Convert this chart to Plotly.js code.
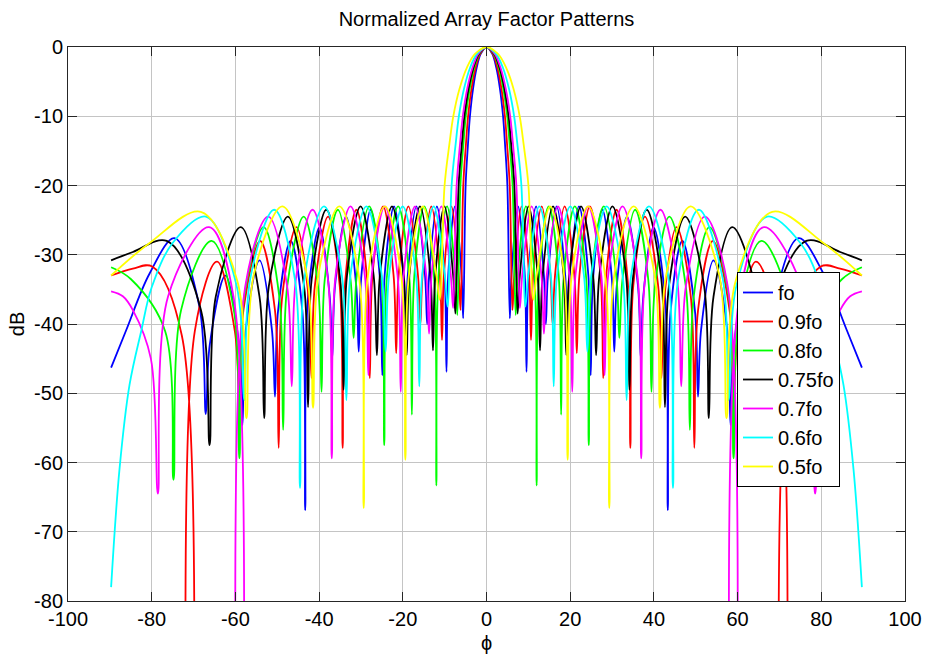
<!DOCTYPE html>
<html>
<head>
<meta charset="utf-8">
<script src="https://cdn.plot.ly/plotly-3.0.1.min.js"></script>
<style>
  html, body { margin: 0; padding: 0; background: #ffffff; }
  #chart { width: 925px; height: 657px; }
</style>
</head>
<body>
<div id="chart"></div>
<script>
// ---- data (phi in degrees, level in dB) ----
const seriesNames = ["fo", "0.9fo", "0.8fo", "0.75fo", "0.7fo", "0.6fo", "0.5fo"];
const seriesColors = ["#0000ff", "#ff0000", "#00ff00", "#000000", "#ff00ff", "#00ffff", "#ffff00"];

// fo
const phiL_fo = [-89.7,-86.1,-80.5,-74.58,-68.57,-67.07,-66.13,-62.38,-59.13,-58.32,-57.51,-54.25,-51.28,-50.54,-49.79,-46.81,-44.02,-43.32,-42.63,-39.87,-37.47,-36.87,-36.2,-33.54,-31.13,-30.53,-29.96,-27.68,-25.46,-24.9,-24.34,-22.09,-19.88,-19.33,-18.81,-16.74,-14.69,-14.18,-13.72,-11.86,-10.02,-9.56,-9.15,-7.53,-5.96,-5.57,-4.99,-4.42,-3.96,-3.21,-2.35,-1.38];
const dbL_fo = [-46.3,-40.9,-32.7,-27.6,-37.6,-53,-43,-33,-43,-54.6,-40.8,-30.8,-40.8,-50.5,-38,-28,-38,-66.9,-36,-26,-36,-45,-34.5,-24.5,-34.5,-44,-33.5,-23.5,-33.5,-47.4,-33,-23,-33,-42,-33,-23,-33,-40,-33,-23,-33,-46.9,-33,-23,-33,-39.2,-20,-14,-10,-6,-3,-1];
const phiR_fo = [0,1.38,2.35,3.21,3.96,4.42,4.99,5.57,5.96,7.53,9.15,9.56,10.02,11.86,13.72,14.18,14.69,16.74,18.81,19.33,19.88,22.09,24.34,24.9,25.46,27.68,29.96,30.53,31.13,33.54,36.2,36.87,37.47,39.87,42.63,43.32,44.02,46.81,49.79,50.54,51.28,54.25,57.51,58.32,59.13,62.38,66.13,67.07,68.57,74.58,80.5,86.1,89.7];
const dbR_fo = [0,-1,-3,-6,-10,-14,-20,-39.2,-33,-23,-33,-46.9,-33,-23,-33,-40,-33,-23,-33,-42,-33,-23,-33,-47.4,-33.5,-23.5,-33.5,-44,-34.5,-24.5,-34.5,-45,-36,-26,-36,-66.9,-38,-28,-38,-50.5,-40.8,-30.8,-40.8,-54.6,-43,-33,-43,-53,-37.6,-27.6,-32.7,-40.9,-46.3];

// 0.9fo
const phiL_09 = [-89.7,-84.5,-79.88,-72.79,-71.02,-69.69,-64.37,-60.14,-59.08,-58.08,-54.1,-50.55,-49.66,-48.81,-45.41,-42.53,-41.81,-41.02,-37.87,-35.07,-34.37,-33.71,-31.07,-28.53,-27.89,-27.25,-24.7,-22.2,-21.58,-21.0,-18.66,-16.37,-15.8,-15.28,-13.2,-11.14,-10.63,-10.18,-8.37,-6.63,-6.19,-5.55,-4.91,-4.4,-3.57,-2.61,-1.53];
const dbL_09 = [-33,-32,-31.7,-41.7,-150,-41,-31,-41,-50,-38,-28,-38,-57.9,-36,-26,-36,-47.8,-34.5,-24.5,-34.5,-57.9,-33.5,-23.5,-33.5,-47.8,-33,-23,-33,-44.2,-33,-23,-33,-40,-33,-23,-33,-42.3,-33,-23,-33,-38,-20,-14,-10,-6,-3,-1];
const phiR_09 = [0,1.53,2.61,3.57,4.4,4.91,5.55,6.19,6.63,8.37,10.18,10.63,11.14,13.2,15.28,15.8,16.37,18.66,21.0,21.58,22.2,24.7,27.25,27.89,28.53,31.07,33.71,34.37,35.07,37.87,41.02,41.81,42.53,45.41,48.81,49.66,50.55,54.1,58.08,59.08,60.14,64.37,69.69,71.02,72.79,79.88,84.5,89.7];
const dbR_09 = [0,-1,-3,-6,-10,-14,-20,-38,-33,-23,-33,-42.3,-33,-23,-33,-40,-33,-23,-33,-44.2,-33,-23,-33,-47.8,-33.5,-23.5,-33.5,-57.9,-34.5,-24.5,-34.5,-47.8,-36,-26,-36,-57.9,-38,-28,-38,-50,-41,-31,-41,-150,-41.7,-31.7,-32,-33];

// 0.8fo
const phiL_08 = [-89.7,-85,-76.8,-74.8,-72.98,-65.69,-60.37,-59.04,-57.88,-53.25,-49.52,-48.59,-47.61,-43.68,-40.27,-39.42,-38.64,-35.5,-32.5,-31.75,-31.01,-28.04,-25.16,-24.44,-23.77,-21.1,-18.48,-17.83,-17.24,-14.88,-12.56,-11.98,-11.47,-9.42,-7.45,-6.96,-6.24,-5.52,-4.95,-4.01,-2.94,-1.72];
const dbL_08 = [-31.8,-33.5,-41,-62.5,-38,-28,-38,-59.4,-36,-26,-36,-55.3,-34.5,-24.5,-34.5,-49.8,-33.5,-23.5,-33.5,-42,-33,-23,-33,-57.5,-33,-23,-33,-53.1,-33,-23,-33,-63.3,-33,-23,-33,-38.7,-20,-14,-10,-6,-3,-1];
const phiR_08 = [0,1.72,2.94,4.01,4.95,5.52,6.24,6.96,7.45,9.42,11.47,11.98,12.56,14.88,17.24,17.83,18.48,21.1,23.77,24.44,25.16,28.04,31.01,31.75,32.5,35.5,38.64,39.42,40.27,43.68,47.61,48.59,49.52,53.25,57.88,59.04,60.37,65.69,72.98,74.8,76.8,85,89.7];
const dbR_08 = [0,-1,-3,-6,-10,-14,-20,-38.7,-33,-23,-33,-63.3,-33,-23,-33,-53.1,-33,-23,-33,-57.5,-33,-23,-33,-42,-33.5,-23.5,-33.5,-49.8,-34.5,-24.5,-34.5,-55.3,-36,-26,-36,-59.4,-38,-28,-38,-62.5,-41,-33.5,-31.8];

// 0.75fo
const phiL_075 = [-89.7,-84.5,-76.41,-68.22,-66.17,-64.68,-58.72,-54.25,-53.13,-52.0,-47.46,-43.6,-42.64,-41.77,-38.27,-34.97,-34.15,-33.34,-30.09,-26.97,-26.19,-25.47,-22.58,-19.77,-19.07,-18.44,-15.9,-13.41,-12.79,-12.24,-10.06,-7.96,-7.43,-6.66,-5.89,-5.28,-4.28,-3.13,-1.83];
const dbL_075 = [-30.8,-29.6,-28,-38,-57.5,-36,-26,-36,-53.6,-34.5,-24.5,-34.5,-52,-33.5,-23.5,-33.5,-49.5,-33,-23,-33,-44.5,-33,-23,-33,-44.5,-33,-23,-33,-43.8,-33,-23,-33,-38.5,-20,-14,-10,-6,-3,-1];
const phiR_075 = [0,1.83,3.13,4.28,5.28,5.89,6.66,7.43,7.96,10.06,12.24,12.79,13.41,15.9,18.44,19.07,19.77,22.58,25.47,26.19,26.97,30.09,33.34,34.15,34.97,38.27,41.77,42.64,43.6,47.46,52.0,53.13,54.25,58.72,64.68,66.17,68.22,76.41,84.5,89.7];
const dbR_075 = [0,-1,-3,-6,-10,-14,-20,-38.5,-33,-23,-33,-43.8,-33,-23,-33,-44.5,-33,-23,-33,-44.5,-33,-23,-33,-49.5,-33.5,-23.5,-33.5,-52,-34.5,-24.5,-34.5,-53.6,-36,-26,-36,-57.5,-38,-28,-29.6,-30.8];

// 0.7fo
const phiL_07 = [-89.7,-86.9,-84.5,-80.2,-78.52,-76.08,-66.31,-60.46,-59,-57.62,-52.12,-47.65,-46.53,-45.54,-41.57,-37.89,-36.97,-36.07,-32.49,-29.07,-28.22,-27.43,-24.29,-21.25,-20.49,-19.81,-17.07,-14.39,-13.72,-13.13,-10.79,-8.53,-7.97,-7.14,-6.32,-5.66,-4.59,-3.36,-1.97];
const dbL_07 = [-35.3,-36,-38,-45,-64.5,-36,-26,-36,-150,-34.5,-24.5,-34.5,-49,-33.5,-23.5,-33.5,-59.4,-33,-23,-33,-47.4,-33,-23,-33,-49.8,-33,-23,-33,-41.4,-33,-23,-33,-37.7,-20,-14,-10,-6,-3,-1];
const phiR_07 = [0,1.97,3.36,4.59,5.66,6.32,7.14,7.97,8.53,10.79,13.13,13.72,14.39,17.07,19.81,20.49,21.25,24.29,27.43,28.22,29.07,32.49,36.07,36.97,37.89,41.57,45.54,46.53,47.65,52.12,57.62,59,60.46,66.31,76.08,78.52,80.2,84.5,86.9,89.7];
const dbR_07 = [0,-1,-3,-6,-10,-14,-20,-37.7,-33,-23,-33,-41.4,-33,-23,-33,-49.8,-33,-23,-33,-47.4,-33,-23,-33,-59.4,-33.5,-23.5,-33.5,-49,-34.5,-24.5,-34.5,-150,-36,-26,-36,-64.5,-45,-38,-36,-35.3];

// 0.6fo
const phiL_06 = [-89.7,-87.7,-85.3,-82.5,-80,-75,-67.04,-59.69,-57.85,-56.47,-50.73,-45.79,-44.56,-43.41,-38.81,-34.55,-33.48,-32.52,-28.69,-25.02,-24.1,-23.29,-20.03,-16.85,-16.06,-15.37,-12.61,-9.96,-9.3,-8.34,-7.37,-6.6,-5.36,-3.92,-2.29];
const dbL_06 = [-78,-61,-48.8,-41,-34.7,-28.3,-24.5,-34.5,-51,-33.5,-23.5,-33.5,-63.7,-33,-23,-33,-51,-33,-23,-33,-44,-33,-23,-33,-49,-33,-23,-33,-37.5,-20,-14,-10,-6,-3,-1];
const phiR_06 = [0,2.29,3.92,5.36,6.6,7.37,8.34,9.3,9.96,12.61,15.37,16.06,16.85,20.03,23.29,24.1,25.02,28.69,32.52,33.48,34.55,38.81,43.41,44.56,45.79,50.73,56.47,57.85,59.69,67.04,75,80,82.5,85.3,87.7,89.7];
const dbR_06 = [0,-1,-3,-6,-10,-14,-20,-37.5,-33,-23,-33,-49,-33,-23,-33,-44,-33,-23,-33,-51,-33,-23,-33,-63.7,-33.5,-23.5,-33.5,-51,-34.5,-24.5,-28.3,-34.7,-41,-48.8,-61,-78];

// 0.5fo
const phiL_05 = [-89.7,-80.5,-68.27,-59.54,-57.36,-55.64,-48.76,-42.91,-41.45,-40.19,-35.17,-30.51,-29.34,-28.33,-24.27,-20.37,-19.39,-18.55,-15.19,-11.99,-11.19,-10.02,-8.86,-7.93,-6.43,-4.71,-2.75];
const dbL_05 = [-33,-28.3,-23.8,-33.8,-53.6,-33,-23,-33,-52.1,-33,-23,-33,-66.6,-33,-23,-33,-59.6,-33,-23,-33,-36.5,-20,-14,-10,-6,-3,-1];
const phiR_05 = [0,2.75,4.71,6.43,7.93,8.86,10.02,11.19,11.99,15.19,18.55,19.39,20.37,24.27,28.33,29.34,30.51,35.17,40.19,41.45,42.91,48.76,55.64,57.36,59.54,68.27,80.5,89.7];
const dbR_05 = [0,-1,-3,-6,-10,-14,-20,-36.5,-33,-23,-33,-59.6,-33,-23,-33,-66.6,-33,-23,-33,-52.1,-33,-23,-33,-53.6,-33.8,-23.8,-28.3,-33];

const xTickVals = [-100, -80, -60, -40, -20, 0, 20, 40, 60, 80, 100];
const xTickText = ["-100", "-80", "-60", "-40", "-20", "0", "20", "40", "60", "80", "100"];
const yTickVals = [-80, -70, -60, -50, -40, -30, -20, -10, 0];
const yTickText = ["-80", "-70", "-60", "-50", "-40", "-30", "-20", "-10", "0"];

// ---- build traces ----
const xs = [phiL_fo.concat(phiR_fo), phiL_09.concat(phiR_09), phiL_08.concat(phiR_08),
            phiL_075.concat(phiR_075), phiL_07.concat(phiR_07), phiL_06.concat(phiR_06), phiL_05.concat(phiR_05)];
const ys = [dbL_fo.concat(dbR_fo), dbL_09.concat(dbR_09), dbL_08.concat(dbR_08),
            dbL_075.concat(dbR_075), dbL_07.concat(dbR_07), dbL_06.concat(dbR_06), dbL_05.concat(dbR_05)];

const traces = xs.map((x, i) => ({
  type: "scatter",
  mode: "lines",
  x: x,
  y: ys[i],
  name: seriesNames[i],
  line: { color: seriesColors[i], width: 1.8, shape: "spline", smoothing: 1 }
}));

const FONT = "Liberation Sans, Arial, Helvetica, sans-serif";
const axisCommon = {
  showgrid: true,
  gridcolor: "#c4c4c4",
  gridwidth: 1,
  zeroline: false,
  showline: true,
  linecolor: "#262626",
  linewidth: 1,
  mirror: "ticks",
  ticks: "inside",
  ticklen: 9,
  tickwidth: 1,
  tickcolor: "#262626",
  tickfont: { family: FONT, size: 20, color: "#000000" }
};

const layout = {
  width: 925,
  height: 657,
  margin: { l: 68, r: 20, t: 47, b: 56, pad: 0 },
  paper_bgcolor: "#ffffff",
  plot_bgcolor: "#ffffff",
  font: { family: FONT, color: "#000000" },
  title: {
    text: "Normalized Array Factor Patterns",
    font: { family: FONT, size: 20, color: "#000000" },
    x: 0.5, xanchor: "center", xref: "paper",
    y: 1 - 19 / 657, yanchor: "middle", yref: "container"
  },
  xaxis: Object.assign({}, axisCommon, {
    range: [-100, 100],
    tickmode: "array",
    tickvals: xTickVals,
    ticktext: xTickText,
    title: { text: "ϕ", font: { family: FONT, size: 20, color: "#000000" }, standoff: 6 }
  }),
  yaxis: Object.assign({}, axisCommon, {
    range: [-80, 0],
    tickmode: "array",
    tickvals: yTickVals,
    ticktext: yTickText,
    title: { text: "dB", font: { family: FONT, size: 20, color: "#000000" }, standoff: 4 }
  }),
  showlegend: true,
  legend: {
    x: (737 - 68) / 837, y: (601 - 272) / 554,
    xanchor: "left", yanchor: "top",
    bgcolor: "#ffffff",
    bordercolor: "#000000",
    borderwidth: 1,
    font: { family: FONT, size: 20, color: "#000000" },
    tracegroupgap: 0
  }
};

Plotly.newPlot("chart", traces, layout, { displayModeBar: false, staticPlot: true });
</script>
</body>
</html>
